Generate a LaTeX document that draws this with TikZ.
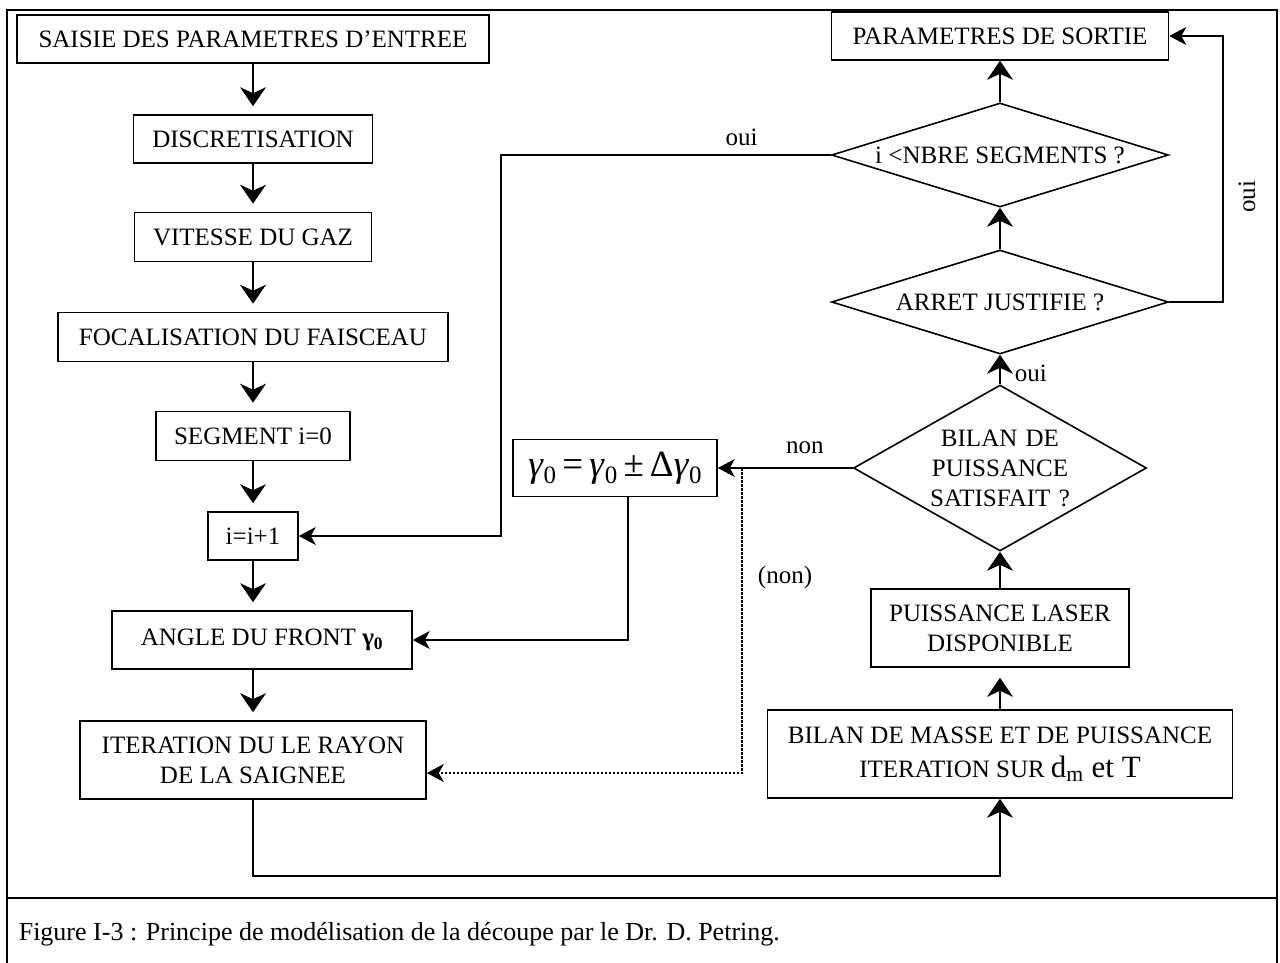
\documentclass[tikz,border=0pt]{standalone}
\usepackage{fontspec}
\setmainfont{Liberation Serif}
\usetikzlibrary{shapes.geometric,arrows.meta}

\newcommand{\indz}{\raisebox{-7pt}{\fontsize{25}{25}\selectfont 0}} % индекс 0

\begin{document}
\begin{tikzpicture}[x=1pt,y=-1pt,line width=1.6pt,font=\fontsize{25}{30}\selectfont] % схема алгоритма
\tikzstyle{bloc} = [draw, rectangle, inner sep=0pt, align=center] % блок
\tikzstyle{cond} = [draw, diamond, inner sep=0pt, align=center] % условие (ромб)
\tikzstyle{fv} = [-{Stealth[length=19pt,width=26pt,inset=6pt]}] % вертикальная стрелка
\tikzstyle{fh} = [-{Stealth[length=17pt,width=18pt,inset=5pt]}] % горизонтальная стрелка
\tikzstyle{lbl} = [inner sep=0pt] % подпись

\useasboundingbox (0,0) rectangle (1280,963);
\draw (7,975) -- (7,10) -- (1277,10) -- (1277,975); % рамка
\draw (7,898) -- (1277,898);

% левый столбец
\node[bloc, minimum width=472, minimum height=48] (saisie) at (253,39) {SAISIE DES PARAMETRES D’ENTREE};
\node[bloc, minimum width=239, minimum height=48] (discret) at (253,139) {DISCRETISATION};
\node[bloc, minimum width=237, minimum height=49] (vitesse) at (253,237) {VITESSE DU GAZ};
\node[bloc, minimum width=390, minimum height=49] (focal) at (253,337) {FOCALISATION DU FAISCEAU};
\node[bloc, minimum width=194, minimum height=49] (segm) at (253,436) {SEGMENT i=0};
\node[bloc, minimum width=90, minimum height=48] (incr) at (253,536) {i=i+1};
\node[bloc, minimum width=300, minimum height=58] (angle) at (262,640) {ANGLE DU FRONT \textbf{γ}\textsubscript{\textbf{0}}};
\node[bloc, minimum width=346, minimum height=78] (iter) at (253,760) {ITERATION DU LE RAYON\\DE LA SAIGNEE};

% середина
\node[bloc, minimum width=204, minimum height=57] (gamma) at (615,468) {\fontsize{37}{37}\selectfont\textit{γ}\indz\,=\,\textit{γ}\indz\,±\,Δ\textit{γ}\indz};

% правый столбец
\node[bloc, minimum width=337, minimum height=48] (sortie) at (1000,36) {PARAMETRES DE SORTIE};
\node[cond, shape aspect=3.2, minimum width=337, minimum height=104] (nbre) at (1000,155) {i <NBRE SEGMENTS ?};
\node[cond, shape aspect=3.2, minimum width=337, minimum height=104] (arret) at (1000,302) {ARRET JUSTIFIE ?};
\node[cond, shape aspect=1.77, text width=150pt, minimum width=293, minimum height=166] (bilan) at (1000,468) {BILAN DE\\PUISSANCE\\SATISFAIT ?};
\node[bloc, minimum width=258, minimum height=78] (laser) at (1000,628) {PUISSANCE LASER\\DISPONIBLE};
\node[bloc, minimum width=465, minimum height=88] (masse) at (1000,754) {BILAN DE MASSE ET DE PUISSANCE\\[4pt]ITERATION SUR {\fontsize{31}{31}\selectfont d\textsubscript{m} et T}};

\coordinate (bas) at (620,876);
\coordinate (gauche) at (501,155);
\coordinate (droite) at (1223,302);
\coordinate (pt) at (742,468);

% стрелки
\draw[fv, shorten >=8pt] (saisie) -- (discret);
\draw[fv, shorten >=8pt] (discret) -- (vitesse);
\draw[fv, shorten >=8pt] (vitesse) -- (focal);
\draw[fv, shorten >=8pt] (focal) -- (segm);
\draw[fv, shorten >=8pt] (segm) -- (incr);
\draw[fv, shorten >=8pt] (incr) -- (incr |- angle.north);
\draw[fv, shorten >=8pt] (angle.south -| iter) -- (iter);
\draw[fv] (iter.south) -- (iter.south |- bas) -| (masse.south);
\draw[fv, shorten >=10pt] (masse) -- (laser);
\draw[fv] (laser) -- (bilan);
\draw[fv] (bilan) -- node[lbl, pos=.36, right=14pt] {oui} (arret);
\draw[fv] (arret) -- (nbre);
\draw[fv] (nbre) -- (sortie);
\draw[fh] (arret.east) -- (droite) |- (sortie.east);
\draw[fh] (nbre.west) -- node[lbl, pos=.27, above=8pt] {oui} (gauche) |- (incr.east);
\draw[fh] (bilan.west) -- node[lbl, pos=.355, above=13pt] {non} (gamma.east);
\draw[fh] ([xshift=13pt]gamma.south) |- (angle.east);
\draw[fh, line width=2pt, dash pattern=on 2.5pt off 1.5pt] (pt) |- ([yshift=-13pt]iter.east);

\node[lbl, rotate=90] (ouid) at (1247,197) {oui};
\node[lbl] (nonp) at (785,577) {(non)};

\node[lbl, anchor=base west, font=\fontsize{26}{30}\selectfont] (legende) at (18,940) {Figure I-3 : Principe de modélisation de la découpe par le Dr. D. Petring.};
\end{tikzpicture}
\end{document}
